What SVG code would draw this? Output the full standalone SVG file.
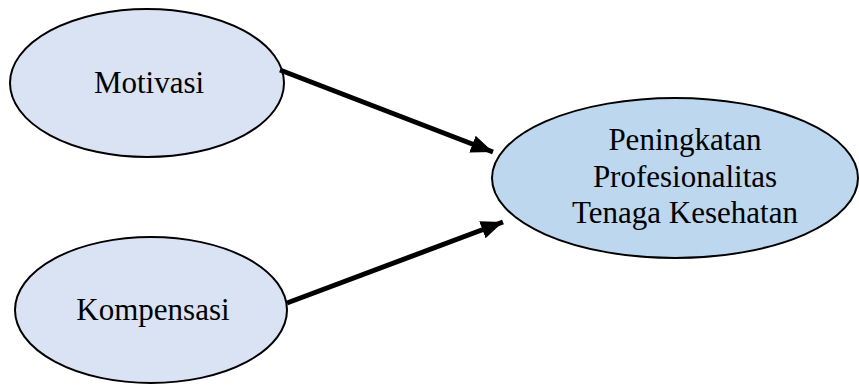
<svg xmlns="http://www.w3.org/2000/svg" width="859" height="392" viewBox="0 0 859 392">
<style>
.n{stroke:#000;stroke-width:2}
.l{fill:#DAE3F3}
.r{fill:#BDD7EE}
text{font-family:"Liberation Serif","Times New Roman",serif;font-size:31px;fill:#000;text-anchor:middle}
.c{stroke:#000;stroke-width:5;fill:none;marker-end:url(#ah)}
</style>
<defs>
<marker id="ah" markerUnits="userSpaceOnUse" markerWidth="24" markerHeight="20" refX="22" refY="9" orient="auto" viewBox="0 0 24 18">
<path d="M0,0 L22,9 L0,18 Z" fill="#000"/>
</marker>
</defs>
<g id="motivasi">
<ellipse class="n l" cx="147" cy="83" rx="137" ry="74"/>
<text x="149" y="93">Motivasi</text>
</g>
<g id="kompensasi">
<ellipse class="n l" cx="151" cy="310" rx="136" ry="73"/>
<text x="153" y="320">Kompensasi</text>
</g>
<g id="peningkatan">
<ellipse class="n r" cx="675" cy="178" rx="183" ry="80"/>
<text x="685" y="150">Peningkatan</text>
<text x="685" y="187">Profesionalitas</text>
<text x="685" y="223">Tenaga Kesehatan</text>
</g>
<g id="connectors">
<line class="c" x1="280" y1="70" x2="493" y2="152"/>
<line class="c" x1="287" y1="303" x2="503" y2="222"/>
</g>
</svg>
